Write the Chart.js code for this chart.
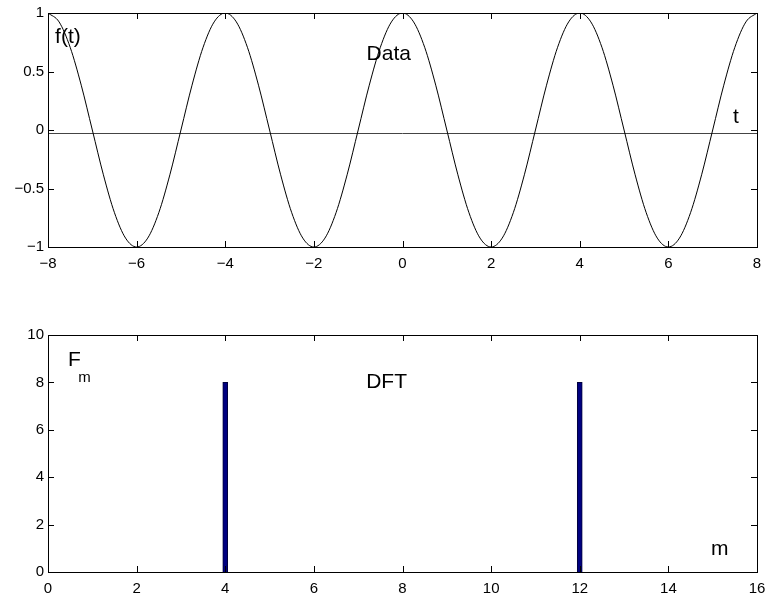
<!DOCTYPE html>
<html lang="en">
<head>
    <meta charset="UTF-8">
    <title>Data and DFT</title>
    <script src="https://cdn.jsdelivr.net/npm/chart.js"></script>
    <style>
        body { margin: 0; background: #fff; }
        .panel { position: absolute; left: 0; }
        #top-panel { top: 0; }
        #bottom-panel { top: 290px; }
    </style>
</head>
<body>
    <div class="panel" id="top-panel"><canvas id="data-chart" width="768" height="290"></canvas></div>
    <div class="panel" id="bottom-panel"><canvas id="dft-chart" width="768" height="308"></canvas></div>

    <script>
        // Samples of f(t), every 0.25 from -8 to 8
        const tValues = [
            -8, -7.75, -7.5, -7.25, -7, -6.75, -6.5, -6.25, -6, -5.75, -5.5, -5.25, -5, -4.75, -4.5, -4.25,
            -4, -3.75, -3.5, -3.25, -3, -2.75, -2.5, -2.25, -2, -1.75, -1.5, -1.25, -1, -0.75, -0.5, -0.25,
            0, 0.25, 0.5, 0.75, 1, 1.25, 1.5, 1.75, 2, 2.25, 2.5, 2.75, 3, 3.25, 3.5, 3.75,
            4, 4.25, 4.5, 4.75, 5, 5.25, 5.5, 5.75, 6, 6.25, 6.5, 6.75, 7, 7.25, 7.5, 7.75, 8
        ];
        const fValues = [
            1, 0.924, 0.707, 0.383, 0, -0.383, -0.707, -0.924, -1, -0.924, -0.707, -0.383, 0, 0.383, 0.707, 0.924,
            1, 0.924, 0.707, 0.383, 0, -0.383, -0.707, -0.924, -1, -0.924, -0.707, -0.383, 0, 0.383, 0.707, 0.924,
            1, 0.924, 0.707, 0.383, 0, -0.383, -0.707, -0.924, -1, -0.924, -0.707, -0.383, 0, 0.383, 0.707, 0.924,
            1, 0.924, 0.707, 0.383, 0, -0.383, -0.707, -0.924, -1, -0.924, -0.707, -0.383, 0, 0.383, 0.707, 0.924,
            1
        ];
        // reference line drawn across the top panel
        const baseT = [-8, 8];
        const baseF = [-0.03, -0.03];

        // DFT magnitudes
        const mValues = [0, 1, 2, 3, 4, 5, 6, 7, 8, 9, 10, 11, 12, 13, 14, 15];
        const FValues = [0, 0, 0, 0, 8, 0, 0, 0, 0, 0, 0, 0, 8, 0, 0, 0];

        // tick values
        const topXTicks = [-8, -6, -4, -2, 0, 2, 4, 6, 8];
        const topYTicks = [-1, -0.5, 0, 0.5, 1];
        const bottomXTicks = [0, 2, 4, 6, 8, 10, 12, 14, 16];
        const bottomYTicks = [0, 2, 4, 6, 8, 10];

        const FONT = 'Liberation Sans, Arial, Helvetica, sans-serif';

        // unicode minus like the original plots
        function fmt(v) {
            return v < 0 ? '\u2212' + String(-v) : String(v);
        }

        function fixedTicks(values) {
            return function(scale) {
                scale.ticks = values.map(v => ({ value: v }));
            };
        }

        // frame with inward ticks on all four sides
        const boxTicks = {
            id: 'boxTicks',
            afterDraw(chart) {
                const ctx = chart.ctx;
                const a = chart.chartArea;
                const xs = chart.scales.x, ys = chart.scales.y;
                const len = 6;
                ctx.save();
                ctx.strokeStyle = '#000';
                ctx.lineWidth = 1;
                ctx.beginPath();
                xs.ticks.forEach(t => {
                    const px = Math.round(xs.getPixelForValue(t.value)) + 0.5;
                    ctx.moveTo(px, a.bottom);
                    ctx.lineTo(px, a.bottom - len);
                    ctx.moveTo(px, a.top);
                    ctx.lineTo(px, a.top + len);
                });
                ys.ticks.forEach(t => {
                    const py = Math.round(ys.getPixelForValue(t.value)) + 0.5;
                    ctx.moveTo(a.left, py);
                    ctx.lineTo(a.left + len, py);
                    ctx.moveTo(a.right, py);
                    ctx.lineTo(a.right - len, py);
                });
                ctx.stroke();
                ctx.strokeRect(Math.round(a.left) + 0.5, Math.round(a.top) + 0.5,
                    Math.round(a.right - a.left), Math.round(a.bottom - a.top));
                ctx.restore();
            }
        };

        // text labels placed in data coordinates
        const notes = {
            id: 'notes',
            afterDraw(chart, args, opts) {
                const ctx = chart.ctx;
                const xs = chart.scales.x, ys = chart.scales.y;
                ctx.save();
                ctx.fillStyle = '#000';
                ctx.textAlign = 'left';
                ctx.textBaseline = 'middle';
                (opts.items || []).forEach(n => {
                    ctx.font = n.size + 'px ' + FONT;
                    ctx.fillText(n.text, xs.getPixelForValue(n.x), ys.getPixelForValue(n.y));
                });
                ctx.restore();
            }
        };

        function axisOptions(min, max, ticks, fitProp, fitSize, pad) {
            return {
                type: 'linear',
                min: min,
                max: max,
                offset: false,
                grid: { display: false, drawTicks: false, offset: false },
                border: { display: false },
                afterBuildTicks: fixedTicks(ticks),
                afterFit(scale) {
                    scale[fitProp] = fitSize;
                    // keep the frame fixed, tick labels may overhang the edges
                    scale.paddingLeft = 0;
                    scale.paddingRight = 0;
                    scale.paddingTop = 0;
                    scale.paddingBottom = 0;
                },
                ticks: {
                    color: '#000',
                    font: { family: FONT, size: 15 },
                    padding: pad,
                    maxRotation: 0,
                    callback: v => fmt(v)
                }
            };
        }

        new Chart(document.getElementById('data-chart'), {
            type: 'line',
            data: {
                datasets: [{
                    data: tValues.map((t, i) => ({ x: t, y: fValues[i] })),
                    borderColor: '#000',
                    borderWidth: 1,
                    pointRadius: 0,
                    cubicInterpolationMode: 'monotone',
                    fill: false
                }, {
                    data: baseT.map((t, i) => ({ x: t, y: baseF[i] })),
                    borderColor: '#444',
                    borderWidth: 1,
                    pointRadius: 0,
                    fill: false
                }]
            },
            options: {
                responsive: false,
                animation: false,
                layout: { padding: { top: 13, right: 11, left: 0, bottom: 0 } },
                plugins: {
                    legend: { display: false },
                    tooltip: { enabled: false },
                    notes: {
                        items: [
                            { text: 'f(t)', x: -7.84, y: 0.79, size: 21 },
                            { text: 'Data', x: -0.81, y: 0.65, size: 21 },
                            { text: 't', x: 7.46, y: 0.11, size: 21 }
                        ]
                    }
                },
                scales: {
                    x: axisOptions(-8, 8, topXTicks, 'height', 43, 8),
                    y: axisOptions(-1, 1, topYTicks, 'width', 48, 4)
                }
            },
            plugins: [boxTicks, notes]
        });

        new Chart(document.getElementById('dft-chart'), {
            type: 'bar',
            data: {
                datasets: [{
                    data: mValues.map((m, i) => ({ x: m, y: FValues[i] })),
                    backgroundColor: '#000080',
                    borderColor: '#00003a',
                    borderWidth: 1,
                    barThickness: 5
                }]
            },
            options: {
                responsive: false,
                animation: false,
                layout: { padding: { top: 45, right: 11, left: 0, bottom: 0 } },
                plugins: {
                    legend: { display: false },
                    tooltip: { enabled: false },
                    notes: {
                        items: [
                            { text: 'F', x: 0.45, y: 8.95, size: 21 },
                            { text: 'm', x: 0.68, y: 8.19, size: 15 },
                            { text: 'DFT', x: 7.18, y: 8.02, size: 21 },
                            { text: 'm', x: 14.96, y: 0.97, size: 21 }
                        ]
                    }
                },
                scales: {
                    x: axisOptions(0, 16, bottomXTicks, 'height', 26, 8),
                    y: axisOptions(0, 10, bottomYTicks, 'width', 48, 4)
                }
            },
            plugins: [boxTicks, notes]
        });
    </script>
</body>
</html>
